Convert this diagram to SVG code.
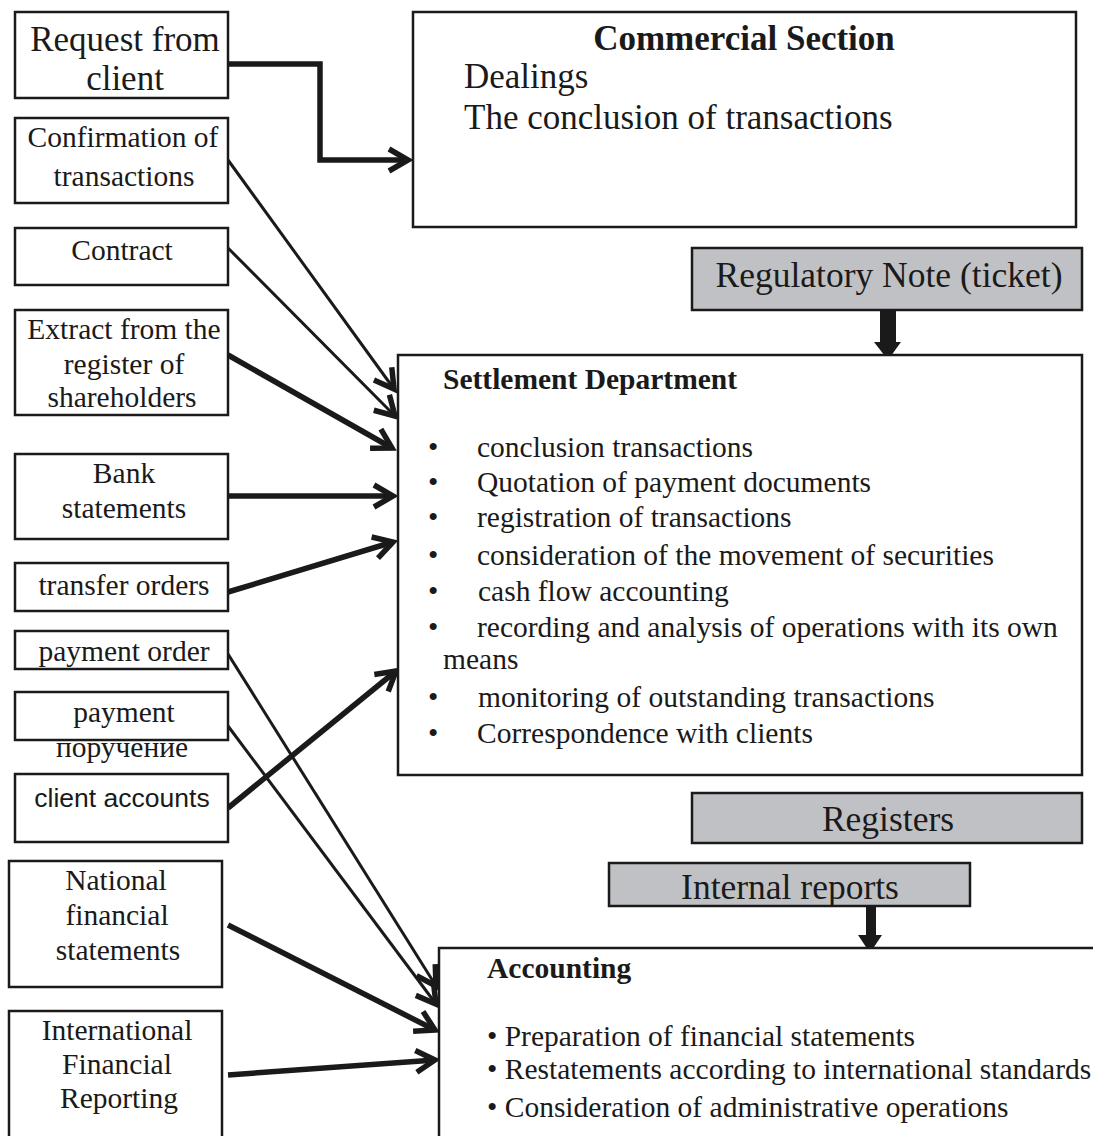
<svg xmlns="http://www.w3.org/2000/svg" width="1093" height="1136" viewBox="0 0 1093 1136">
<style>
.box{fill:#fff;stroke:#1a1a1a;stroke-width:2.5}
.grey{fill:#c0c1c4;stroke:#1a1a1a;stroke-width:2.5}
text{font-family:"Liberation Serif","Times New Roman",serif;fill:#1a1a1a}
.c{text-anchor:middle}
.lbl{font-size:29.5px}
.big{font-size:35px}
.hd{font-size:35.5px}
.b{font-weight:bold}
.sans{font-family:"Liberation Sans",Arial,sans-serif;font-size:26.5px}
.thin{fill:none;stroke:#1a1a1a;stroke-width:3;marker-end:url(#ah)}
.thick{fill:none;stroke:#1a1a1a;stroke-width:5.5;marker-end:url(#ah)}
</style>
<defs>
<marker id="ah" viewBox="-22 -14 24 28" refX="0" refY="0" markerWidth="24" markerHeight="28" markerUnits="userSpaceOnUse" orient="auto" overflow="visible">
<polyline points="-19,-11 0,0 -19,11" fill="none" stroke="#1a1a1a" stroke-width="5.5"/>
</marker>
</defs>

<g id="connectors">
<polyline class="thick" points="228,64 320,64 320,160 408,160"/>
<line class="thin" x1="228" y1="160" x2="394" y2="389"/>
<line class="thin" x1="228" y1="248" x2="395" y2="416"/>
<line class="thick" x1="228" y1="355" x2="392" y2="448"/>
<line class="thick" x1="228" y1="496" x2="393" y2="496"/>
<line class="thick" x1="228" y1="592" x2="393" y2="542"/>
<line class="thick" x1="228" y1="808" x2="396" y2="671"/>
<line class="thin" x1="228" y1="654" x2="436" y2="986"/>
<line class="thin" x1="228" y1="726" x2="436" y2="1004"/>
<line class="thick" x1="228" y1="925" x2="435" y2="1030"/>
<line class="thick" x1="228" y1="1075" x2="435" y2="1060"/>
<polygon points="880,310 896,310 896,342 901,342 888,360 874,342 880,342" fill="#1a1a1a"/>
<polygon points="866,902 876,902 876,935 882,935 870,953 858,935 866,935" fill="#1a1a1a"/>
</g>

<g id="request">
<rect class="box" x="15" y="12" width="213" height="86"/>
<text class="c big" x="125" y="51">Request from</text>
<text class="c big" x="125" y="90">client</text>
</g>
<g id="confirmation">
<rect class="box" x="15" y="118" width="213" height="85"/>
<text class="c lbl" x="123" y="147">Confirmation of</text>
<text class="c lbl" x="124" y="186">transactions</text>
</g>
<g id="contract">
<rect class="box" x="15" y="228" width="213" height="57"/>
<text class="c lbl" x="122" y="260">Contract</text>
</g>
<g id="extract">
<rect class="box" x="15" y="310" width="213" height="105"/>
<text class="c lbl" x="124" y="339">Extract from the</text>
<text class="c lbl" x="124" y="374">register of</text>
<text class="c lbl" x="122" y="407">shareholders</text>
</g>
<g id="bank">
<rect class="box" x="15" y="454" width="213" height="85"/>
<text class="c lbl" x="124" y="483">Bank</text>
<text class="c lbl" x="124" y="518">statements</text>
</g>
<g id="transfer">
<rect class="box" x="15" y="563" width="213" height="48"/>
<text class="c lbl" x="124" y="595">transfer orders</text>
</g>
<g id="payment-order">
<rect class="box" x="15" y="631" width="213" height="38"/>
<text class="c lbl" x="124" y="661">payment order</text>
</g>
<g id="payment">
<rect class="box" x="15" y="692" width="213" height="48"/>
<text class="c lbl" x="124" y="722">payment</text>
<text class="c lbl" x="122" y="757">поручение</text>
</g>
<g id="client-accounts">
<rect class="box" x="15" y="774" width="213" height="68"/>
<text class="c sans" x="122" y="807">client accounts</text>
</g>
<g id="national">
<rect class="box" x="9" y="861" width="213" height="126"/>
<text class="c lbl" x="116" y="890">National</text>
<text class="c lbl" x="117" y="925">financial</text>
<text class="c lbl" x="118" y="960">statements</text>
</g>
<g id="international">
<rect class="box" x="9" y="1011" width="213" height="130"/>
<text class="c lbl" x="117" y="1040">International</text>
<text class="c lbl" x="117" y="1074">Financial</text>
<text class="c lbl" x="119" y="1108">Reporting</text>
</g>

<g id="commercial">
<rect class="box" x="413" y="12" width="663" height="215"/>
<text class="c big b" x="744" y="50">Commercial Section</text>
<text class="big" x="464" y="88">Dealings</text>
<text class="big" x="464" y="129">The conclusion of transactions</text>
</g>
<g id="regulatory">
<rect class="grey" x="692" y="248" width="390" height="62"/>
<text class="c hd" x="889" y="287">Regulatory Note (ticket)</text>
</g>
<g id="settlement">
<rect class="box" x="398" y="355" width="684" height="420"/>
<text class="b" x="443" y="389" style="font-size:29.5px">Settlement Department</text>
<g class="lbl">
<text x="428" y="457">•</text><text x="477" y="457">conclusion transactions</text>
<text x="428" y="492">•</text><text x="477" y="492">Quotation of payment documents</text>
<text x="428" y="527">•</text><text x="477" y="527">registration of transactions</text>
<text x="428" y="565">•</text><text x="477" y="565">consideration of the movement of securities</text>
<text x="428" y="601">•</text><text x="478" y="601">cash flow accounting</text>
<text x="428" y="637">•</text><text x="477" y="637">recording and analysis of operations with its own</text>
<text x="443" y="669">means</text>
<text x="428" y="707">•</text><text x="478" y="707">monitoring of outstanding transactions</text>
<text x="428" y="743">•</text><text x="477" y="743">Correspondence with clients</text>
</g>
</g>
<g id="registers">
<rect class="grey" x="692" y="793" width="390" height="50"/>
<text class="c hd" x="888" y="831">Registers</text>
</g>
<g id="internal">
<rect class="grey" x="609" y="863" width="361" height="43"/>
<text class="c hd" x="790" y="899">Internal reports</text>
</g>
<g id="accounting">
<rect class="box" x="439" y="948" width="680" height="210"/>
<text class="b" x="487" y="978" style="font-size:29.5px">Accounting</text>
<text class="lbl" x="487" y="1046">• Preparation of financial statements</text>
<text class="lbl" x="487" y="1079">• Restatements according to international standards</text>
<text class="lbl" x="487" y="1117">• Consideration of administrative operations</text>
</g>
</svg>
